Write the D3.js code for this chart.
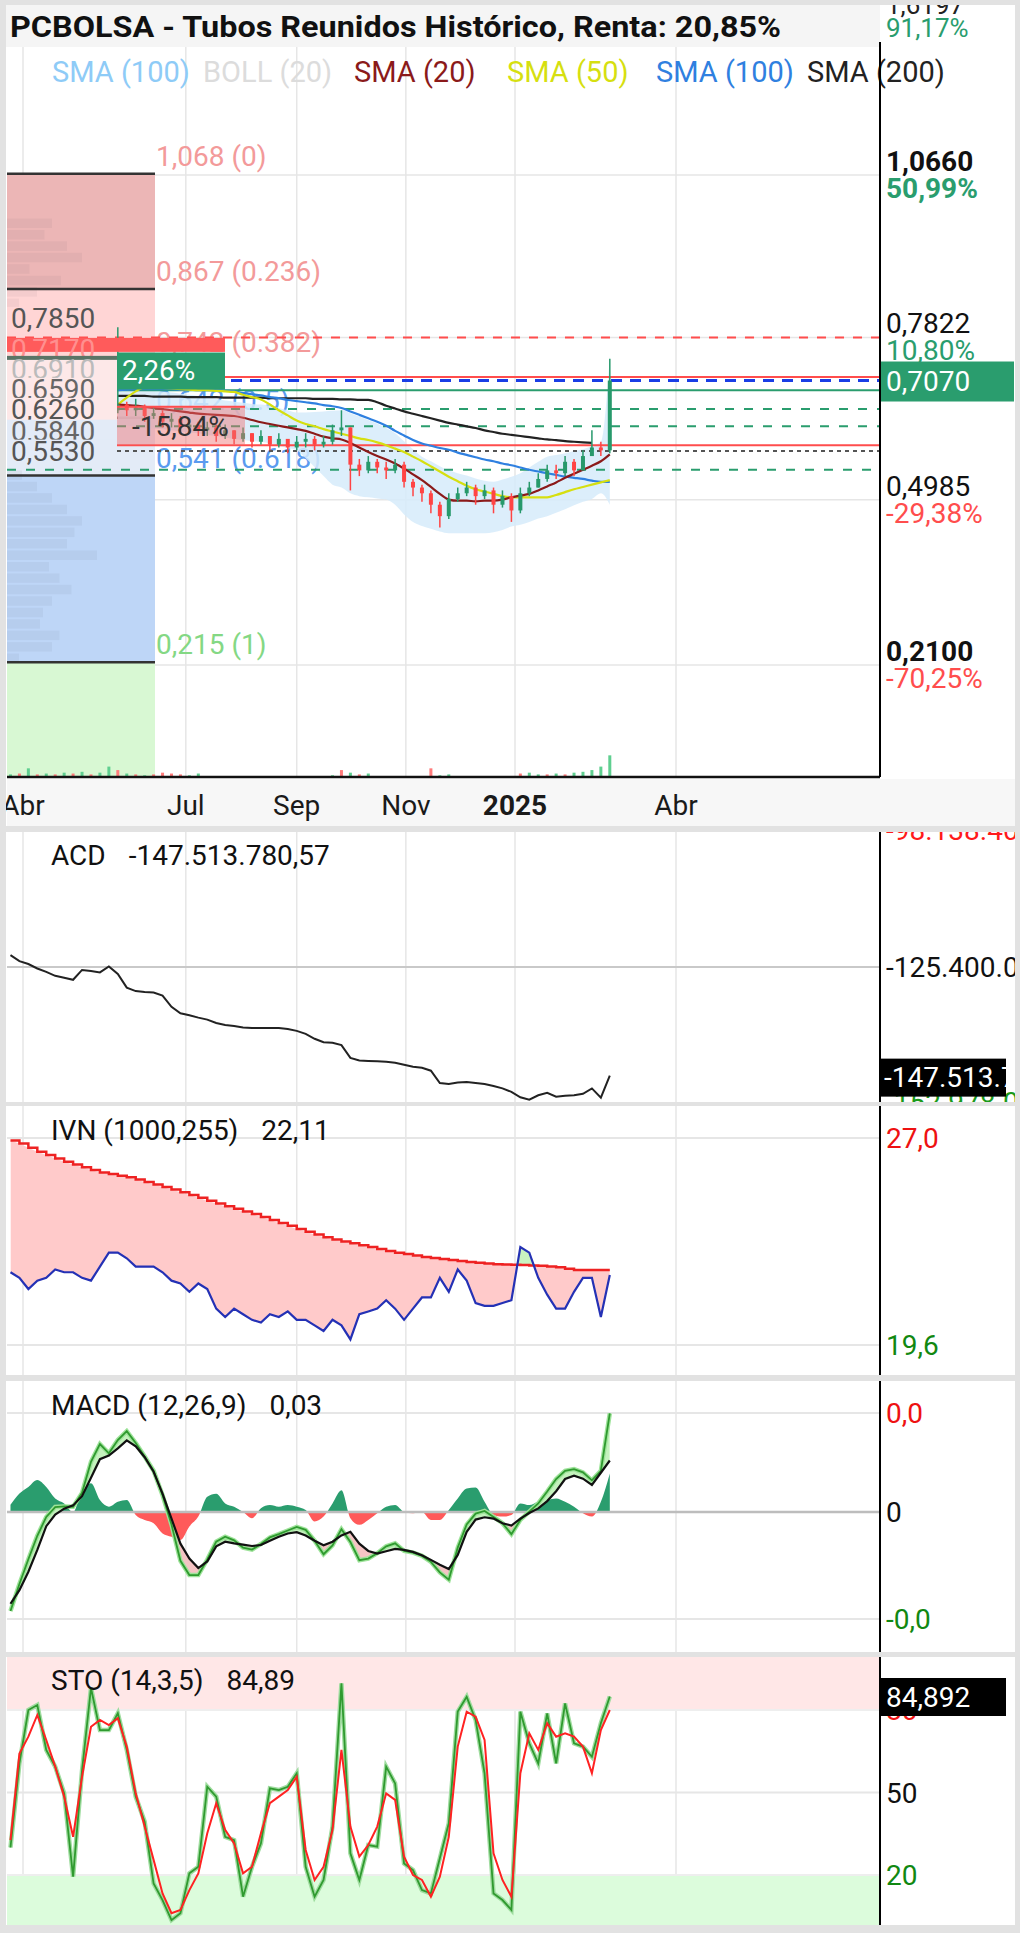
<!DOCTYPE html>
<html lang="es">
<head>
<meta charset="UTF-8">
<title>PCBOLSA - Tubos Reunidos</title>
<script src="https://cdn.jsdelivr.net/npm/d3@7"></script>
<style>
  body { margin: 0; background: #fff; }
  svg { display: block; font-family: Roboto, "Noto Sans", sans-serif; }
</style>
</head>
<body>
<svg id="chart" width="1020" height="1933"></svg>
<script>
// ---- data ----
const startDate = new Date(2024, 2, 25);   // first bar of the indicator panels
const stepDays = 5;
const nPoints = 68;
const priceStart = 12;                     // price series begins at this bar

const tickDates = [new Date(2024, 3, 1), new Date(2024, 6, 1), new Date(2024, 8, 1),
                   new Date(2024, 10, 1), new Date(2025, 0, 1), new Date(2025, 3, 1)];
const tickLabels = ["Abr", "Jul", "Sep", "Nov", "2025", "Abr"];

const firstOpen = 0.655;
const closes = [0.665,0.655,0.66,0.645,0.65,0.635,0.64,0.625,0.63,0.62,0.625,0.61,0.62,0.605,0.615,0.60,0.61,0.595,0.605,0.59,
  0.60,0.605,0.595,0.60,0.62,0.625,0.56,0.55,0.565,0.555,0.55,0.56,0.53,0.52,0.51,0.49,0.47,0.50,0.51,0.52,
  0.505,0.515,0.49,0.505,0.48,0.51,0.52,0.535,0.55,0.545,0.565,0.55,0.575,0.59,0.585,0.707];
const highs = [0.80,0.67,0.675,0.665,0.66,0.655,0.65,0.645,0.64,0.635,0.635,0.63,0.63,0.62,0.625,0.615,0.62,0.61,0.615,0.605,
  0.61,0.615,0.61,0.61,0.63,0.655,0.625,0.57,0.575,0.57,0.565,0.57,0.565,0.535,0.525,0.515,0.495,0.51,0.52,0.53,
  0.525,0.525,0.52,0.515,0.51,0.52,0.53,0.545,0.56,0.56,0.575,0.57,0.585,0.62,0.60,0.745];
const lows = [0.65,0.645,0.645,0.635,0.64,0.625,0.625,0.615,0.62,0.61,0.61,0.60,0.605,0.595,0.60,0.59,0.595,0.585,0.59,0.58,
  0.585,0.59,0.585,0.59,0.595,0.61,0.515,0.54,0.545,0.545,0.535,0.545,0.52,0.505,0.495,0.475,0.45,0.465,0.495,0.505,
  0.49,0.50,0.475,0.485,0.46,0.475,0.505,0.52,0.53,0.535,0.54,0.54,0.55,0.575,0.575,0.58];

const sma20 = [0.665,0.664,0.663,0.661,0.659,0.657,0.655,0.653,0.651,0.649,0.648,0.647,0.646,0.645,0.642,0.638,0.634,0.631,0.628,0.625,
  0.622,0.619,0.614,0.609,0.606,0.604,0.598,0.590,0.582,0.575,0.569,0.562,0.553,0.543,0.533,0.521,0.509,0.499,0.497,0.497,
  0.496,0.497,0.497,0.499,0.503,0.506,0.509,0.515,0.522,0.529,0.537,0.544,0.551,0.558,0.566,0.578];
const sma50 = [0.665,0.677,0.688,0.695,0.695,0.694,0.693,0.692,0.691,0.690,0.690,0.689,0.688,0.687,0.682,0.678,0.674,0.665,0.655,0.646,
  0.637,0.631,0.627,0.622,0.618,0.614,0.610,0.606,0.603,0.599,0.594,0.588,0.582,0.574,0.566,0.557,0.548,0.539,0.531,0.523,
  0.517,0.513,0.509,0.505,0.503,0.503,0.503,0.503,0.503,0.507,0.512,0.517,0.521,0.525,0.529,0.533];
const sma100 = [0.690,0.691,0.692,0.692,0.692,0.692,0.692,0.691,0.691,0.690,0.690,0.690,0.689,0.688,0.685,0.683,0.681,0.678,0.676,0.673,
  0.671,0.669,0.667,0.664,0.662,0.659,0.653,0.647,0.641,0.635,0.628,0.619,0.611,0.603,0.597,0.593,0.589,0.586,0.581,0.577,
  0.573,0.569,0.566,0.562,0.559,0.555,0.551,0.548,0.545,0.542,0.539,0.537,0.535,0.532,0.530,0.530];
const sma200 = [0.680,0.680,0.680,0.680,0.679,0.679,0.679,0.679,0.678,0.678,0.678,0.678,0.677,0.677,0.677,0.677,0.677,0.676,0.676,0.676,
  0.676,0.676,0.675,0.675,0.675,0.674,0.674,0.673,0.673,0.669,0.663,0.658,0.653,0.649,0.645,0.641,0.637,0.633,0.630,0.627,
  0.624,0.620,0.617,0.614,0.612,0.610,0.608,0.606,0.604,0.603,0.601,0.600,0.599,0.598,null,null];
const bollUpper = [0.700,0.698,0.695,0.693,0.690,0.688,0.686,0.684,0.682,0.680,0.678,0.675,0.672,0.670,0.668,0.666,0.665,0.663,0.659,0.655,
  0.651,0.651,0.652,0.653,0.654,0.655,0.650,0.644,0.638,0.632,0.624,0.615,0.601,0.587,0.574,0.566,0.557,0.550,0.545,0.541,
  0.536,0.532,0.530,0.534,0.539,0.545,0.555,0.565,0.574,0.577,0.580,0.584,0.587,0.592,0.600,0.750];
const bollLower = [0.630,0.628,0.627,0.625,0.623,0.622,0.620,0.618,0.616,0.615,0.612,0.610,0.607,0.605,0.603,0.601,0.600,0.597,0.593,0.589,
  0.585,0.571,0.556,0.540,0.525,0.520,0.510,0.505,0.503,0.501,0.499,0.490,0.473,0.460,0.453,0.448,0.443,0.440,0.440,0.440,
  0.440,0.440,0.442,0.446,0.452,0.455,0.460,0.466,0.470,0.476,0.482,0.489,0.495,0.500,0.510,0.490];

// volume (positive = up bar, negative = down bar)
const volume = [3,-4,10,-3,4,-3,5,-4,6,-3,5,12,-8,4,-3,2,-3,-5,-4,-3,2,4,1,1,0,0,0,0,0,0,
  0,0,0,0,0,0,2,-8,5,-3,4,1,0,0,0,0,0,-10,2,3,0,0,0,0,0,0,0,-4,5,3,-3,4,-3,5,6,8,12,25];

// volume-by-price profile
const profilePrice = [0.98,0.96,0.94,0.92,0.90,0.88,0.86,0.84,0.54,0.52,0.50,0.48,0.46,0.44,0.42,0.40,0.38,0.36,0.34,0.32,0.30,0.28,0.26,0.24,0.22];
const profileVol = [30,25,40,50,15,36,20,8,10,20,30,40,50,45,40,60,28,35,43,30,24,22,35,30,8];

// fibonacci retracement
const fibRatios = ["0", "0.236", "0.382", "0.5", "0.618", "1"];
const fibLevels = [1.068, 0.867, 0.742, 0.642, 0.541, 0.215];

// horizontal support / resistance lines
const levelLines = [0.7822, 0.713, 0.707, 0.690, 0.657, 0.627, 0.594, 0.584, 0.551];
// level labels on the left
const levelLabelValues = [0.785, 0.717, 0.691, 0.659, 0.626, 0.584, 0.553];
const levelLabelText = ["0,7850", "0,7170", "0,6910", "0,6590", "0,6260", "0,5840", "0,5530"];

// right price axis
const priceAxisValues = [1.066, 0.7822, 0.4985, 0.21];
const priceAxisText = ["1,0660", "0,7822", "0,4985", "0,2100"];
const priceAxisPct = ["50,99%", "10,80%", "-29,38%", "-70,25%"];
const lastPrice = 0.707;

// ACD (millions)
const acd = [-123.0,-124.2,-124.8,-125.7,-126.4,-127.2,-127.6,-128.0,-126.0,-126.2,-126.5,-125.3,-126.8,-129.6,-130.3,-130.5,-130.6,-131.2,-133.5,-134.8,
  -135.2,-135.7,-136.1,-136.8,-137.2,-137.4,-137.7,-137.8,-137.8,-137.8,-137.8,-138.0,-138.4,-139.0,-140.0,-140.7,-140.8,-141.3,-143.9,-144.4,
  -144.5,-144.6,-144.7,-144.9,-145.3,-145.7,-145.9,-146.5,-149.0,-149.2,-148.9,-148.8,-149.0,-149.2,-149.6,-150.1,-150.8,-151.9,-152.4,-151.5,
  -151.0,-151.8,-151.6,-151.5,-151.2,-150.1,-152.0,-147.5];

// IVN (1000,255)
const ivn = [22.2,22.0,21.6,21.9,22.0,22.3,22.2,22.2,22.0,21.9,22.4,22.9,22.9,22.7,22.4,22.4,22.4,22.2,21.9,21.8,
  21.5,21.8,21.6,20.9,20.6,20.9,20.7,20.5,20.4,20.7,20.6,20.8,20.5,20.5,20.3,20.1,20.5,20.3,19.8,20.7,
  20.8,20.9,21.2,20.9,20.5,20.9,21.3,21.3,22.0,21.5,22.3,21.9,21.1,21.0,21.0,21.1,21.2,23.1,22.9,22.0,
  21.4,20.9,20.9,21.5,22.0,22.0,20.6,22.1];
const ivnAvg = [26.91,26.80,26.65,26.51,26.39,26.27,26.15,26.05,25.95,25.86,25.77,25.71,25.65,25.60,25.52,25.43,25.34,25.25,25.16,25.06,
  24.96,24.86,24.76,24.66,24.56,24.47,24.37,24.28,24.18,24.07,23.96,23.86,23.75,23.65,23.55,23.45,23.37,23.30,23.24,23.17,
  23.10,23.03,22.96,22.90,22.85,22.80,22.75,22.71,22.67,22.64,22.60,22.57,22.54,22.51,22.49,22.48,22.47,22.46,22.44,22.43,
  22.41,22.38,22.33,22.28,22.28,22.28,22.28,22.28];

// MACD (12,26,9) in thousandths
const macd = [-30.0,-21.8,-14.3,-7.2,-1.5,1.5,1.7,1.6,5.8,15.2,20.6,17.8,21.8,24.5,20.9,16.8,12.5,5.1,-3.8,-14.8,
  -19.1,-19.1,-14.4,-9.0,-7.5,-8.6,-10.8,-11.4,-9.7,-7.7,-6.7,-5.6,-4.5,-5.4,-8.7,-12.8,-10.1,-5.2,-9.1,-14.6,
  -14.1,-12.5,-10.4,-9.5,-11.8,-12.3,-13.3,-15.1,-18.3,-20.5,-10.8,-3.8,-0.5,0.3,-1.5,-3.4,-6.7,-2.4,0.1,2.6,
  6.2,10.0,12.5,13.0,12.0,9.6,12.5,29.9];
const macdSignal = [-27.8,-23.7,-18.1,-11.5,-4.3,-0.8,1.0,2.0,4.8,10.4,16.0,17.1,19.3,21.7,19.9,16.6,12.2,5.6,-2.0,-9.6,
  -14.1,-17.0,-15.0,-10.4,-9.0,-9.5,-9.9,-10.3,-10.0,-8.7,-7.5,-6.5,-6.1,-7.1,-8.7,-10.1,-9.0,-7.1,-6.0,-9.6,
  -11.8,-12.6,-11.9,-11.2,-11.5,-12.1,-13.1,-14.5,-16.0,-17.3,-13.0,-6.0,-2.3,-1.6,-2.0,-3.4,-4.1,-2.0,-0.3,1.1,
  3.3,6.3,10.0,11.0,10.1,8.2,11.9,15.6];
const macdHist = [2.2,5.6,7.6,9.7,7.6,4.1,2.6,0,6.6,8.7,3.6,1.6,3.1,3.6,-0.9,-2.4,-3.4,-6.5,-7.5,-8.5,
  -4.4,-1.4,4.6,5.5,2.6,1.6,0,-1.9,1.1,2.1,1.6,2.1,1.6,0.6,-2.9,-1.4,2.6,6.6,-1.9,-3.9,
  -2.4,-0.4,1.6,2.1,0,-0.4,0,-2.4,-2.4,0.6,4.1,7.1,7.4,3.1,-0.9,-1.4,-0.9,2.6,2.1,3.1,
  3.6,4.1,3.1,1.6,-0.4,-1.4,3.1,11.7];
const macdTicks = [30, 0, -32.4];
const macdTickText = ["0,0", "0", "-0,0"];

// STO (14,3,5)
const stoK = [30,60.6,80,81.8,65.5,59.4,49.7,19.4,58,88,72.7,72.7,78.8,65.5,48.5,39.4,16.9,10.9,3.6,6.1,
  20.6,23.0,52.1,48.5,33.9,32.7,12.1,23.0,31.5,51.5,50.9,52.1,57.0,23.0,12.1,18.2,37.6,89.7,27.9,18.2,
  30.9,30.3,59.4,53.3,24.2,21.8,14.5,13.3,26.1,38.8,79.4,84.8,76.4,57.0,13.3,10.9,7.3,79.4,67.9,60.6,
  78.8,60.6,82.4,67.9,66.7,63.0,75.2,84.9];
const stoD = [32.7,64.2,70.3,78.2,69.1,59.4,48.5,33.9,55.7,73.9,76.4,74.5,77.0,66.7,49.7,37.6,25.5,13.3,6.1,7.3,
  14.5,20.6,35.2,46.1,36.4,31.5,20.6,23.0,35.2,46.1,48.5,50.9,55.7,29.1,18.2,23.0,36.4,65.5,37.6,26.7,
  30.9,37.6,49.7,47.3,26.7,20.0,18.2,12.1,19.4,33.9,66.7,79.4,77.6,69.1,27.9,18.2,12.1,57.0,71.5,65.5,
  75.2,70.3,71.5,70.3,66.7,57.0,72.7,80.0];

// ---- layout ----
const svg = d3.select("#chart");
const W = 1020, H = 1933;
const left = 7, right = 880;
const green = "#2a9d6e", red = "#ff4d4d";
const fs = 28;

const dates = d3.range(nPoints).map(i => d3.timeDay.offset(startDate, i * stepDays));
const priceDates = dates.slice(priceStart);

const x = d3.scaleTime()
  .domain([new Date(2024, 3, 1), new Date(2025, 3, 1)])
  .range([23, 676]);

const panels = {
  price: [47, 777],
  acd: [832, 1102],
  ivn: [1106, 1375],
  macd: [1381, 1652],
  sto: [1657, 1925]
};

const defs = svg.append("defs");
Object.entries(panels).forEach(([k, [t, b]]) => {
  defs.append("clipPath").attr("id", "clip-" + k)
    .append("rect").attr("x", left).attr("y", t).attr("width", right - left).attr("height", b - t);
  defs.append("clipPath").attr("id", "clipR-" + k)
    .append("rect").attr("x", right).attr("y", t).attr("width", W - right).attr("height", b - t);
});

svg.append("rect").attr("width", W).attr("height", H).attr("fill", "#fff");

// title bar
svg.append("rect").attr("x", 5).attr("y", 5).attr("width", right - 5).attr("height", 42).attr("fill", "#f5f5f5");
svg.append("text").attr("x", 10).attr("y", 37).attr("font-size", 29).attr("font-weight", 700).attr("fill", "#111")
  .attr("textLength", 771).attr("lengthAdjust", "spacingAndGlyphs")
  .text("PCBOLSA - Tubos Reunidos Histórico, Renta: 20,85%");
svg.append("text").attr("x", 886).attr("y", 14).attr("font-size", 26).attr("fill", "#222").text("1,6197");
svg.append("text").attr("x", 886).attr("y", 37).attr("font-size", 26).attr("fill", green).text("91,17%");

// vertical grid lines in every panel
Object.values(panels).forEach(([t, b]) => {
  svg.append("g").selectAll("line").data(tickDates).join("line")
    .attr("x1", d => x(d)).attr("x2", d => x(d))
    .attr("y1", t).attr("y2", b)
    .attr("stroke", "#e6e6e6").attr("stroke-width", 1.5);
});

// ================= PRICE PANEL =================
const y = d3.scaleLinear().domain([0.21, 1.066]).range([665, 175]);
const gp = svg.append("g").attr("clip-path", "url(#clip-price)");

gp.selectAll(".hgrid").data(priceAxisValues).join("line")
  .attr("x1", left).attr("x2", right).attr("y1", d => y(d)).attr("y2", d => y(d))
  .attr("stroke", "#e6e6e6").attr("stroke-width", 1.5);

// fibonacci zones on the left
const boxR = 155;
const zoneColors = ["#ecb6b6", "#ffd5d5", "#ffe9e9", "#e3ebf7", "#bed6f7", "#d8f8d3"];
const zoneEdges = fibLevels.map(v => y(v)).concat([777]);
zoneColors.forEach((c, i) => {
  gp.append("rect").attr("x", left).attr("width", boxR - left)
    .attr("y", zoneEdges[i]).attr("height", zoneEdges[i + 1] - zoneEdges[i]).attr("fill", c);
});

// volume profile
const px = d3.scaleLinear().domain([0, 100]).range([left, left + 150]);
gp.selectAll(".prof").data(profilePrice).join("rect")
  .attr("x", left).attr("y", d => y(d + 0.01))
  .attr("width", (d, i) => px(profileVol[i]) - left)
  .attr("height", d => y(d - 0.01) - y(d + 0.01) - 2)
  .attr("fill", "rgba(60,60,90,0.06)");

gp.selectAll(".fibline").data(fibLevels).join("line")
  .attr("x1", left).attr("x2", boxR).attr("y1", d => y(d)).attr("y2", d => y(d))
  .attr("stroke", (d, i) => i === 3 ? "#888" : "#333").attr("stroke-width", 2.5);

const fibColors = ["#f39a9a", "#f39a9a", "#f39a9a", "#5b9bef", "#5b9bef", "#84d884"];
gp.selectAll(".fibtext").data(fibLevels).join("text")
  .attr("x", boxR + 1).attr("y", d => y(d) - 8)
  .attr("font-size", fs).attr("fill", (d, i) => fibColors[i])
  .text((d, i) => d3.format(".3f")(d).replace(".", ",") + " (" + fibRatios[i] + ")");

// volume bars
const vy = d3.scaleLinear().domain([0, 30]).range([777, 751]);
gp.selectAll(".vol").data(volume).join("rect")
  .attr("x", (d, i) => x(dates[i]) - 1.5).attr("width", 3)
  .attr("y", d => vy(Math.abs(d))).attr("height", d => 777 - vy(Math.abs(d)))
  .attr("fill", d => d >= 0 ? "#5fcf90" : "#ff7b7b");

// bollinger band
gp.append("path")
  .datum(priceDates)
  .attr("fill", "#d6ebfa").attr("opacity", 0.85)
  .attr("d", d3.area().x(d => x(d)).y0((d, i) => y(bollLower[i])).y1((d, i) => y(bollUpper[i])).curve(d3.curveMonotoneX));

// level lines
const levelStyle = [
  { c: red, w: 2, dash: "9,9", from: left },
  { c: red, w: 2, dash: null, from: 117 },
  { c: "#1a3ee6", w: 3, dash: "11,8", from: 117 },
  { c: green, w: 2, dash: null, from: 117 },
  { c: green, w: 2, dash: "9,10", from: 117 },
  { c: green, w: 2, dash: "9,10", from: 117 },
  { c: red, w: 2, dash: null, from: 117 },
  { c: "#555", w: 2, dash: "4,4", from: 117 },
  { c: green, w: 2, dash: "9,10", from: left }
];
gp.selectAll(".lvl").data(levelLines).join("line")
  .attr("x1", (d, i) => levelStyle[i].from).attr("x2", right)
  .attr("y1", d => y(d)).attr("y2", d => y(d))
  .attr("stroke", (d, i) => levelStyle[i].c)
  .attr("stroke-width", (d, i) => levelStyle[i].w)
  .attr("stroke-dasharray", (d, i) => levelStyle[i].dash);

// moving averages
const smaLine = arr => d3.line()
  .defined((d, i) => arr[i] != null)
  .x(d => x(d)).y((d, i) => y(arr[i])).curve(d3.curveMonotoneX);
[[sma200, "#222"], [sma100, "#2f80e0"], [sma50, "#d6df10"], [sma20, "#8b1a1a"]].forEach(([arr, c]) => {
  gp.append("path").datum(priceDates).attr("fill", "none").attr("stroke", c).attr("stroke-width", 2.2)
    .attr("d", smaLine(arr));
});

// candles
const opens = closes.map((c, i) => i === 0 ? firstOpen : closes[i - 1]);
const candles = gp.append("g");
priceDates.forEach((d, i) => {
  const up = closes[i] >= opens[i];
  const col = up ? "#27996b" : "#ff4444";
  candles.append("line").attr("x1", x(d)).attr("x2", x(d))
    .attr("y1", y(highs[i])).attr("y2", y(lows[i])).attr("stroke", col).attr("stroke-width", 1.5);
  candles.append("rect").attr("x", x(d) - 2).attr("width", 4)
    .attr("y", y(Math.max(opens[i], closes[i])))
    .attr("height", Math.max(1.5, Math.abs(y(opens[i]) - y(closes[i]))))
    .attr("fill", col);
});

// left level labels (stacked so they do not run into each other)
const labelBase = levelLabelValues.map(v => y(v) - 8);
for (let i = labelBase.length - 2; i >= 0; i--) labelBase[i] = Math.min(labelBase[i], labelBase[i + 1] - 20);
const labelBg = ["#ffd5d5", "#ff5b5b", "#fde8e8", "#fde8e8", "#fde8e8", "#e3ebf7", "#e3ebf7"];
const labelFg = ["#555", "#ff8f8f", "#bbb", "#666", "#555", "#666", "#555"];
levelLabelValues.forEach((v, i) => {
  const w = i === 1 ? 225 - left : 117 - left;
  gp.append("rect").attr("x", left).attr("y", labelBase[i] - 21).attr("width", w).attr("height", i === 1 ? 14 : 25)
    .attr("fill", labelBg[i]);
  if (i === 2) gp.append("rect").attr("x", left).attr("y", labelBase[i] - 23).attr("width", boxR - left).attr("height", 4).attr("fill", "#5a7466");
  gp.append("text").attr("x", 11).attr("y", labelBase[i]).attr("font-size", fs).attr("fill", labelFg[i])
    .text(levelLabelText[i]);
});

// range box and change badge
gp.append("rect").attr("x", 117).attr("y", y(0.661)).attr("width", 128).attr("height", y(0.594) - y(0.661))
  .attr("fill", "rgba(240,110,110,0.45)");
gp.append("line").attr("x1", 117).attr("x2", 245).attr("y1", y(0.661)).attr("y2", y(0.661)).attr("stroke", red).attr("stroke-width", 2);
gp.append("text").attr("x", 132).attr("y", y(0.661) + 29).attr("font-size", fs).attr("fill", "#333").text("-15,84%");
gp.append("rect").attr("x", 117).attr("y", y(lastPrice) - 28).attr("width", 108).attr("height", 37).attr("fill", green);
gp.append("text").attr("x", 122).attr("y", y(lastPrice) - 1).attr("font-size", fs).attr("fill", "#fff").text("2,26%");

// legend
const legendItems = [["SMA (100)", "#8ecbf7", 52], ["BOLL (20)", "#dcdcdc", 203], ["SMA (20)", "#8b1a1a", 354],
                     ["SMA (50)", "#d6df10", 507], ["SMA (100)", "#2f80e0", 656], ["SMA (200)", "#222", 807]];
legendItems.forEach(([t, c, lx]) => {
  svg.append("text").attr("x", lx).attr("y", 82).attr("font-size", 29).attr("fill", c).text(t);
});

// bottom border + right axis of the price panel
svg.append("line").attr("x1", left).attr("x2", right).attr("y1", 777).attr("y2", 777).attr("stroke", "#111").attr("stroke-width", 2.5);

// right price labels
const gr = svg.append("g");
priceAxisValues.forEach((v, i) => {
  const bold = i === 0 || i === 3;
  gr.append("text").attr("x", 886).attr("y", y(v) - 4).attr("font-size", fs)
    .attr("font-weight", bold ? 700 : 400).attr("fill", "#111").text(priceAxisText[i]);
  gr.append("text").attr("x", 886).attr("y", y(v) + 23).attr("font-size", fs)
    .attr("font-weight", i === 0 ? 700 : 400)
    .attr("fill", priceAxisPct[i].startsWith("-") ? red : green).text(priceAxisPct[i]);
});
gr.append("rect").attr("x", 879).attr("y", y(lastPrice) - 19).attr("width", 135).attr("height", 40).attr("fill", green);
gr.append("text").attr("x", 886).attr("y", y(lastPrice) + 10).attr("font-size", fs).attr("fill", "#fff")
  .text(d3.format(".4f")(lastPrice).replace(".", ","));

// ================= X AXIS BAND =================
svg.append("rect").attr("x", left).attr("y", 779).attr("width", W - left).attr("height", 47).attr("fill", "#f7f7f7");
svg.append("g").selectAll("text").data(tickDates).join("text")
  .attr("x", d => x(d)).attr("y", 815).attr("text-anchor", "middle").attr("font-size", fs)
  .attr("font-weight", (d, i) => tickLabels[i] === "2025" ? 700 : 400)
  .attr("fill", "#1a1a1a").text((d, i) => tickLabels[i]);

// helper for indicator panel titles
function panelTitle(name, value, base) {
  const t = svg.append("text").attr("x", 51).attr("y", base).attr("font-size", fs).attr("fill", "#111").text(name);
  svg.append("text").attr("x", 51 + t.node().getComputedTextLength() + 23).attr("y", base)
    .attr("font-size", fs).attr("fill", "#111").text(value);
}
function hline(g, yy, col, w) {
  g.append("line").attr("x1", left).attr("x2", right).attr("y1", yy).attr("y2", yy).attr("stroke", col).attr("stroke-width", w);
}

// ================= ACD =================
const yA = d3.scaleLinear().domain([-125.4, -98.138]).range([967, 833]);
const ga = svg.append("g").attr("clip-path", "url(#clip-acd)");
hline(ga, yA(-125.4), "#c9c9c9", 2);
ga.append("path").datum(dates).attr("fill", "none").attr("stroke", "#222").attr("stroke-width", 2)
  .attr("d", d3.line().x(d => x(d)).y((d, i) => yA(acd[i])));
panelTitle("ACD", "-147.513.780,57", 865);
const gar = svg.append("g").attr("clip-path", "url(#clipR-acd)");
gar.append("text").attr("x", 886).attr("y", 840).attr("font-size", fs).attr("fill", "#ff1a1a").text("-98.138.400");
gar.append("text").attr("x", 886).attr("y", yA(-125.4) + 10).attr("font-size", fs).attr("fill", "#111").text("-125.400.000");
gar.append("text").attr("x", 886).attr("y", 1112).attr("font-size", fs).attr("fill", "#1a9a1a").text("-152.978.000");
gar.append("rect").attr("x", 880).attr("y", yA(acd[nPoints - 1]) - 17).attr("width", 126).attr("height", 38).attr("fill", "#000");
gar.append("text").attr("x", 884).attr("y", yA(acd[nPoints - 1]) + 11).attr("font-size", fs).attr("fill", "#fff").text("-147.513.780");

// ================= IVN =================
const yI = d3.scaleLinear().domain([19.6, 27.0]).range([1345, 1138]);
const gi = svg.append("g").attr("clip-path", "url(#clip-ivn)");
hline(gi, yI(27.0), "#e6e6e6", 2);
hline(gi, yI(19.6), "#e6e6e6", 2);
const avgLine = d3.line().x(d => x(d)).y((d, i) => yI(ivnAvg[i])).curve(d3.curveStepAfter);
defs.append("clipPath").attr("id", "ivn-below").append("path").datum(dates)
  .attr("d", d3.area().x(d => x(d)).y0(1375).y1((d, i) => yI(ivnAvg[i])).curve(d3.curveStepAfter));
defs.append("clipPath").attr("id", "ivn-above").append("path").datum(dates)
  .attr("d", d3.area().x(d => x(d)).y0(1106).y1((d, i) => yI(ivnAvg[i])).curve(d3.curveStepAfter));
const ivnBand = d3.area().x(d => x(d)).y0((d, i) => yI(ivnAvg[i])).y1((d, i) => yI(ivn[i]));
gi.append("g").attr("clip-path", "url(#ivn-below)").append("path").datum(dates).attr("fill", "#ffcaca").attr("d", ivnBand);
gi.append("g").attr("clip-path", "url(#ivn-above)").append("path").datum(dates).attr("fill", "#c9f3c0").attr("d", ivnBand);
gi.append("path").datum(dates).attr("fill", "none").attr("stroke", "#ee2222").attr("stroke-width", 2.5).attr("d", avgLine);
gi.append("path").datum(dates).attr("fill", "none").attr("stroke", "#2431b5").attr("stroke-width", 2.2)
  .attr("d", d3.line().x(d => x(d)).y((d, i) => yI(ivn[i])));
panelTitle("IVN (1000,255)", "22,11", 1140);
svg.append("text").attr("x", 886).attr("y", yI(27.0) + 10).attr("font-size", fs).attr("fill", "#ee1111").text("27,0");
svg.append("text").attr("x", 886).attr("y", yI(19.6) + 10).attr("font-size", fs).attr("fill", "#118811").text("19,6");

// ================= MACD =================
const yM = d3.scaleLinear().domain([0, 30]).range([1512, 1413]);
const gm = svg.append("g").attr("clip-path", "url(#clip-macd)");
hline(gm, yM(30), "#e6e6e6", 2);
hline(gm, yM(-32.4), "#e6e6e6", 2);
defs.append("clipPath").attr("id", "zero-above").append("rect").attr("x", left).attr("y", 1381).attr("width", right - left).attr("height", yM(0) - 1381);
defs.append("clipPath").attr("id", "zero-below").append("rect").attr("x", left).attr("y", yM(0)).attr("width", right - left).attr("height", 1652 - yM(0));
const histArea = d3.area().x(d => x(d)).y0(yM(0)).y1((d, i) => yM(macdHist[i])).curve(d3.curveMonotoneX);
gm.append("g").attr("clip-path", "url(#zero-above)").append("path").datum(dates).attr("fill", green).attr("d", histArea);
gm.append("g").attr("clip-path", "url(#zero-below)").append("path").datum(dates).attr("fill", "#ff5a5a").attr("d", histArea);
hline(gm, yM(0), "#bdbdbd", 2.5);
defs.append("clipPath").attr("id", "sig-above").append("path").datum(dates)
  .attr("d", d3.area().x(d => x(d)).y0(1381).y1((d, i) => yM(macdSignal[i])));
defs.append("clipPath").attr("id", "sig-below").append("path").datum(dates)
  .attr("d", d3.area().x(d => x(d)).y0(1652).y1((d, i) => yM(macdSignal[i])));
const macdBand = d3.area().x(d => x(d)).y0((d, i) => yM(macdSignal[i])).y1((d, i) => yM(macd[i]));
gm.append("g").attr("clip-path", "url(#sig-above)").append("path").datum(dates).attr("fill", "#c4f2bd").attr("d", macdBand);
gm.append("g").attr("clip-path", "url(#sig-below)").append("path").datum(dates).attr("fill", "#f5c4c4").attr("d", macdBand);
gm.append("path").datum(dates).attr("fill", "none").attr("stroke", "#9ee39a").attr("stroke-width", 4.5)
  .attr("d", d3.line().x(d => x(d)).y((d, i) => yM(macd[i])));
gm.append("path").datum(dates).attr("fill", "none").attr("stroke", "#2f9a2f").attr("stroke-width", 1.8)
  .attr("d", d3.line().x(d => x(d)).y((d, i) => yM(macd[i])));
gm.append("path").datum(dates).attr("fill", "none").attr("stroke", "#111").attr("stroke-width", 2.2)
  .attr("d", d3.line().x(d => x(d)).y((d, i) => yM(macdSignal[i])));
panelTitle("MACD (12,26,9)", "0,03", 1415);
const macdTickCol = ["#ee1111", "#111", "#118811"];
macdTicks.forEach((v, i) => {
  svg.append("text").attr("x", 886).attr("y", yM(v) + 10).attr("font-size", fs).attr("fill", macdTickCol[i]).text(macdTickText[i]);
});

// ================= STO =================
const yS = d3.scaleLinear().domain([20, 80]).range([1875, 1710]);
const gs = svg.append("g").attr("clip-path", "url(#clip-sto)");
gs.append("rect").attr("x", left).attr("y", 1657).attr("width", right - left).attr("height", yS(80) - 1657).attr("fill", "#ffe7e7");
gs.append("rect").attr("x", left).attr("y", yS(20)).attr("width", right - left).attr("height", 1925 - yS(20)).attr("fill", "#dcfcdc");
hline(gs, yS(80), "#eeeeee", 2);
hline(gs, yS(50), "#e6e6e6", 2);
hline(gs, yS(20), "#eeeeee", 2);
gs.append("path").datum(dates).attr("fill", "none").attr("stroke", "#9fdc9f").attr("stroke-width", 4.5)
  .attr("d", d3.line().x(d => x(d)).y((d, i) => yS(stoK[i])));
gs.append("path").datum(dates).attr("fill", "none").attr("stroke", "#2f9a2f").attr("stroke-width", 1.8)
  .attr("d", d3.line().x(d => x(d)).y((d, i) => yS(stoK[i])));
gs.append("path").datum(dates).attr("fill", "none").attr("stroke", "#ff2222").attr("stroke-width", 2)
  .attr("d", d3.line().x(d => x(d)).y((d, i) => yS(stoD[i])));
panelTitle("STO (14,3,5)", "84,89", 1690);
svg.append("text").attr("x", 886).attr("y", yS(80) + 10).attr("font-size", fs).attr("fill", "#ee1111").text("80");
svg.append("text").attr("x", 886).attr("y", yS(50) + 10).attr("font-size", fs).attr("fill", "#111").text("50");
svg.append("text").attr("x", 886).attr("y", yS(20) + 10).attr("font-size", fs).attr("fill", "#118811").text("20");
svg.append("rect").attr("x", 880).attr("y", 1678).attr("width", 126).attr("height", 38).attr("fill", "#000");
svg.append("text").attr("x", 886).attr("y", 1707).attr("font-size", fs).attr("fill", "#fff").text("84,892");

// right axis lines
Object.values(panels).forEach(([t, b]) => {
  svg.append("line").attr("x1", right).attr("x2", right).attr("y1", t === 47 ? 42 : t).attr("y2", b)
    .attr("stroke", "#000").attr("stroke-width", 2);
});

// frame and separators
const frame = "#e2e2e2";
[[0, 0, W, 5], [0, 0, 6, H], [W - 5, 0, 5, H], [0, 1925, W, 8],
 [0, 826, W, 6], [0, 1102, W, 4], [0, 1375, W, 6], [0, 1652, W, 5]].forEach(([a, b, w, h]) => {
  svg.append("rect").attr("x", a).attr("y", b).attr("width", w).attr("height", h).attr("fill", frame);
});
</script>
</body>
</html>
